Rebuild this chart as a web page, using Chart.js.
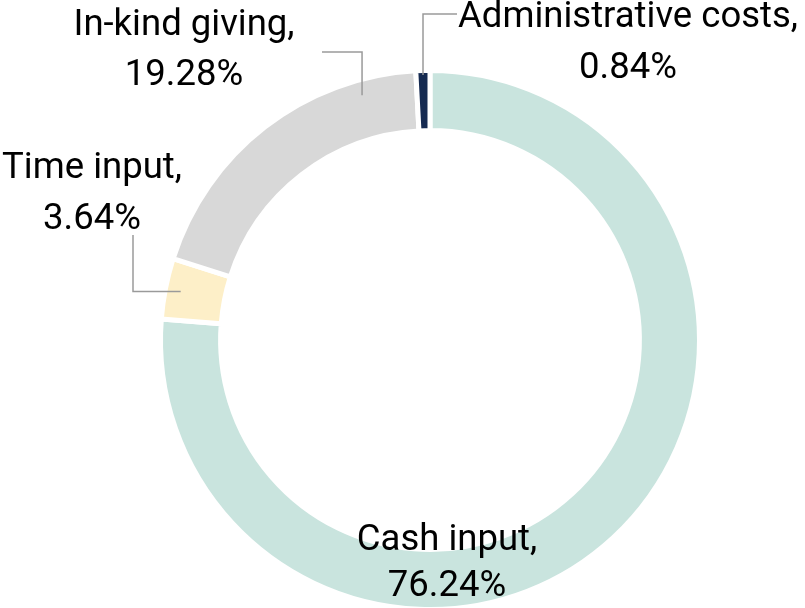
<!DOCTYPE html>
<html>
<head>
<meta charset="utf-8">
<script src="https://cdn.jsdelivr.net/npm/chart.js@4.4.1/dist/chart.umd.min.js"></script>
<style>
  html, body { margin: 0; padding: 0; background: #fff; overflow: hidden; }
</style>
</head>
<body>
<canvas id="donut" width="805" height="620"></canvas>
<script>
// chart data
var categories = ['Cash input', 'Time input', 'In-kind giving', 'Administrative costs'];
var shares = [76.24, 3.64, 19.28, 0.84];
var sliceColors = ['#c9e4de', '#fdefc8', '#d8d8d8', '#152a51'];

// where each label sits and how its leader line runs (t = position along the arc, dr = px in from outer edge)
var labelLayout = [
    { x: 447, y: 550, gap: 46 },
    { x: 92, y: 178, gap: 51, t: 0.5, dr: 13, path: [['h', 133], ['v', 235]] },
    { x: 184, y: 35, gap: 50, t: 0.82, dr: 13, path: [['v', 52], ['h', 322]] },
    { x: 628, y: 27, gap: 51, t: 0.5, dr: 2, path: [['v', 14], ['h', 457]] }
];

var calloutPlugin = {
    id: 'callouts',
    afterDatasetsDraw: function(chart) {
        var ctx = chart.ctx;
        var meta = chart.getDatasetMeta(0);
        ctx.save();
        meta.data.forEach(function(arc, i) {
            var lay = labelLayout[i];
            var p = arc.getProps(['x', 'y', 'startAngle', 'endAngle', 'outerRadius'], true);
            if (lay.path) {
                var a = p.startAngle + (p.endAngle - p.startAngle) * lay.t;
                var r = p.outerRadius - 2.5 - lay.dr;
                var px = p.x + Math.cos(a) * r;
                var py = p.y + Math.sin(a) * r;
                ctx.beginPath();
                ctx.moveTo(px, py);
                lay.path.forEach(function(step) {
                    if (step[0] === 'h') px = step[1]; else py = step[1];
                    ctx.lineTo(px, py);
                });
                ctx.strokeStyle = '#9a9a9a';
                ctx.lineWidth = 1.5;
                ctx.stroke();
            }
            ctx.fillStyle = '#000';
            ctx.font = '36.5px Roboto';
            ctx.textAlign = 'center';
            ctx.textBaseline = 'alphabetic';
            ctx.fillText(categories[i] + ',', lay.x, lay.y);
            ctx.fillText(shares[i].toFixed(2) + '%', lay.x, lay.y + lay.gap);
        });
        ctx.restore();
    }
};

var donutChart = new Chart(document.getElementById('donut'), {
    type: 'doughnut',
    data: {
        labels: categories,
        datasets: [{
            data: shares,
            backgroundColor: sliceColors,
            borderColor: '#ffffff',
            borderWidth: 5
        }]
    },
    options: {
        responsive: false,
        animation: false,
        cutout: '77.7%',
        layout: { padding: { left: 158, top: 68, right: 103, bottom: 8 } },
        plugins: {
            legend: { display: false },
            tooltip: { enabled: false }
        }
    },
    plugins: [calloutPlugin]
});
</script>
</body>
</html>
